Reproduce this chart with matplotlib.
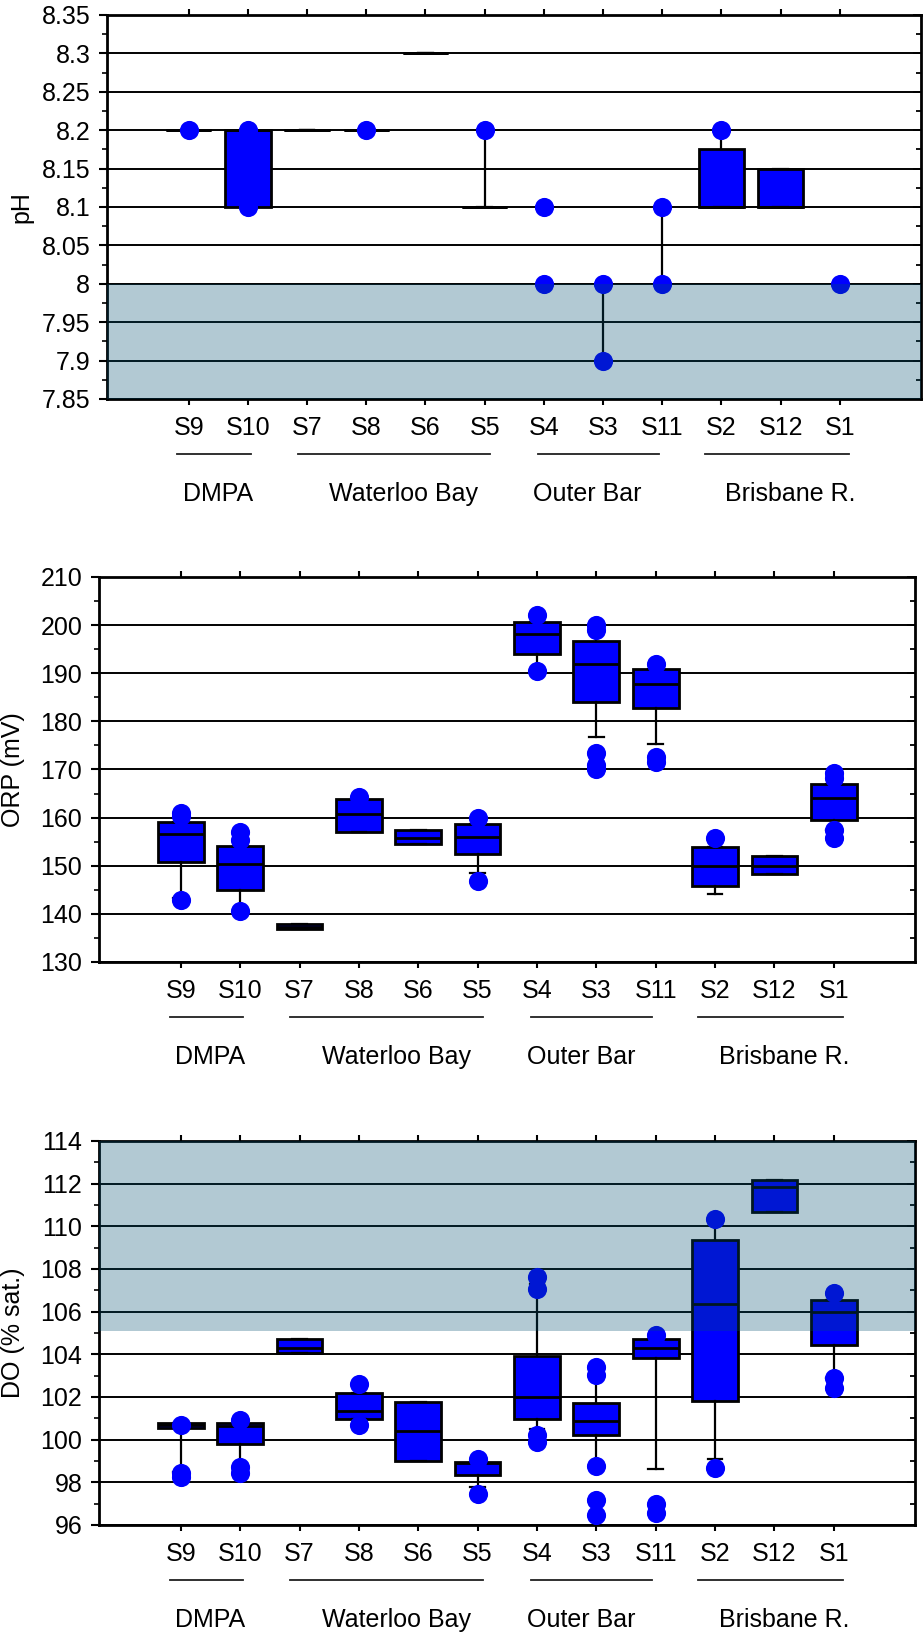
import numpy as np
import matplotlib
matplotlib.use("Agg")
import matplotlib.pyplot as plt
import matplotlib.transforms as mtransforms
from matplotlib.ticker import MultipleLocator, FormatStrFormatter

plt.rcParams['font.family'] = ['Liberation Sans', 'DejaVu Sans']

# stations in plotting order, and their groups
stations = ['S9', 'S10', 'S7', 'S8', 'S6', 'S5', 'S4', 'S3', 'S11', 'S2', 'S12', 'S1']
group_names = ['DMPA', 'Waterloo Bay', 'Outer Bar', 'Brisbane R.']

# pH (None = no box drawn, only points)
ph_q1 = [8.2, 8.1, 8.2, 8.2, 8.3, 8.1, None, None, None, 8.1, 8.1, None]
ph_med = [8.2, 8.2, 8.2, 8.2, 8.3, 8.1, None, None, None, 8.1, 8.1, None]
ph_q3 = [8.2, 8.2, 8.2, 8.2, 8.3, 8.1, None, None, None, 8.175, 8.15, None]
ph_lo = [8.2, 8.1, 8.2, 8.2, 8.3, 8.1, 8.0, 7.9, 8.0, 8.1, 8.1, 8.0]
ph_hi = [8.2, 8.2, 8.2, 8.2, 8.3, 8.2, 8.0, 8.0, 8.1, 8.2, 8.15, 8.0]
ph_fliers = [[8.2], [8.1, 8.2], [], [8.2], [], [8.2], [8.0, 8.1], [7.9, 8.0],
             [8.0, 8.1], [8.2], [], [8.0]]

# ORP (mV)
orp_q1 = [150.8, 144.9, 136.8, 157.1, 154.5, 152.4, 194.0, 184.1, 182.8, 145.8, 148.3, 159.6]
orp_med = [156.6, 150.3, 137.3, 160.7, 155.8, 155.9, 198.2, 192.0, 187.8, 150.0, 150.0, 164.1]
orp_q3 = [159.1, 154.1, 137.8, 163.8, 157.4, 158.7, 200.7, 196.6, 190.8, 153.8, 152.1, 167.0]
orp_lo = [143.2, 141.0, 136.8, 157.1, 154.5, 148.4, 190.8, 176.7, 175.4, 144.2, 148.3, 157.4]
orp_hi = [159.1, 154.1, 137.8, 163.8, 157.4, 158.7, 200.7, 198.9, 190.8, 153.8, 152.1, 167.0]
orp_fliers = [[160.3, 161.0, 142.8], [155.3, 157.1, 140.6], [], [164.2], [], [160.0, 146.9],
              [202.0, 190.5], [200.1, 198.9, 173.4, 171.0, 170.0], [192.0, 172.6, 171.6],
              [155.7], [], [169.2, 168.2, 157.4, 155.7]]

# DO (% sat.)
do_q1 = [100.57, 99.82, 104.04, 100.96, 99.0, 98.34, 100.96, 100.22, 103.85, 101.81, 110.67, 104.42]
do_med = [100.68, 100.65, 104.31, 101.34, 100.40, 98.89, 102.01, 100.87, 104.32, 106.37, 111.85, 105.99]
do_q3 = [100.79, 100.76, 104.71, 102.17, 101.78, 98.97, 103.93, 101.70, 104.71, 109.38, 112.19, 106.54]
do_lo = [98.5, 98.7, 104.04, 100.96, 99.0, 97.8, 100.5, 98.76, 98.62, 99.08, 110.67, 102.87]
do_hi = [100.79, 100.76, 104.71, 102.17, 101.78, 98.97, 107.3, 103.03, 104.71, 110.33, 112.19, 106.54]
do_fliers = [[100.7, 98.45, 98.23], [100.92, 98.73, 98.42], [], [102.59, 100.68], [],
             [99.08, 97.45], [107.63, 107.08, 100.22, 99.9], [103.42, 103.03, 98.76, 97.17, 96.47],
             [104.9, 97.0, 96.55], [110.33, 98.65], [], [106.88, 102.87, 102.40]]

# guideline (shaded) ranges
ph_band = (7.85, 8.0)
do_band = (105.1, 114)

# layout constants
W, H = 923, 1634
group_line_span = [(0.81, 2.05), (2.84, 6.09), (6.90, 8.94), (9.72, 12.16)]
group_text_x = [1.49, 4.63, 7.74, 11.16]
FS = 18
BLUE = '#0000ff'
SHADE = (0.0, 0.31, 0.43)

fig = plt.figure(figsize=(W / 100, H / 100), dpi=100)


def add_axes(l, t, r, b):
    return fig.add_axes([l / W, 1 - b / H, (r - l) / W, (b - t) / H])


def stats_for(q1, med, q3, lo, hi, fl, idx):
    out = []
    for i in idx:
        s = dict(q1=q1[i] if q1[i] is not None else lo[i],
                 med=med[i] if med[i] is not None else lo[i],
                 q3=q3[i] if q3[i] is not None else lo[i],
                 whislo=lo[i], whishi=hi[i], fliers=fl[i])
        out.append(s)
    return out


def draw_boxes(ax, q1, med, q3, lo, hi, fl):
    boxed = [i for i in range(len(stations)) if q1[i] is not None]
    bare = [i for i in range(len(stations)) if q1[i] is None]
    common = dict(widths=0.77, capwidths=0.25, patch_artist=True, manage_ticks=False,
                  boxprops=dict(facecolor=BLUE, edgecolor='black', linewidth=2.0),
                  whiskerprops=dict(color='black', linewidth=1.6),
                  capprops=dict(color='black', linewidth=1.6),
                  flierprops=dict(marker='o', markerfacecolor=BLUE, markeredgecolor=BLUE,
                                  markersize=13.8, markeredgewidth=0, zorder=3))
    if boxed:
        ax.bxp(stats_for(q1, med, q3, lo, hi, fl, boxed),
               positions=[i + 1 for i in boxed],
               medianprops=dict(color='black', linewidth=2.0), **common)
    if bare:
        ax.bxp(stats_for(q1, med, q3, lo, hi, fl, bare),
               positions=[i + 1 for i in bare], showbox=False, showcaps=False,
               medianprops=dict(linewidth=0), **common)


def style_axes(ax, ylim, major, minor, fmt, ylabel):
    ax.set_xlim(-0.38, 13.37)
    ax.set_ylim(*ylim)
    ax.set_xticks(range(1, len(stations) + 1))
    ax.set_xticklabels(stations, fontsize=FS)
    ax.yaxis.set_major_locator(MultipleLocator(major))
    ax.yaxis.set_minor_locator(MultipleLocator(minor))
    ax.yaxis.set_major_formatter(FormatStrFormatter(fmt))
    ax.tick_params(axis='y', which='major', direction='out', length=6, width=1.5,
                   labelsize=FS, pad=6)
    ax.tick_params(axis='y', which='minor', direction='out', length=3.5, width=1.2)
    ax.tick_params(axis='x', which='major', direction='out', length=4, width=1.5,
                   top=True, labelsize=FS, pad=8)
    ax.yaxis.grid(True, which='major', color='black', linewidth=1.4)
    ax.set_axisbelow(True)
    for sp in ax.spines.values():
        sp.set_linewidth(2.0)
    sec = ax.secondary_yaxis('right')
    sec.yaxis.set_major_locator(MultipleLocator(major))
    sec.yaxis.set_minor_locator(MultipleLocator(minor))
    sec.tick_params(which='both', direction='in', labelright=False, width=1.3)
    sec.tick_params(which='major', length=6)
    sec.tick_params(which='minor', length=3.5)
    ax.set_ylabel(ylabel, fontsize=FS)
    ax.yaxis.set_label_coords(-74 / 814, 0.5)

    # station groups underneath the axis
    trans = mtransforms.blended_transform_factory(ax.transData, ax.transAxes)
    for name, (x0, x1), xt in zip(group_names, group_line_span, group_text_x):
        ax.plot([x0, x1], [-55 / 384, -55 / 384], color='#202020', linewidth=1.3,
                transform=trans, clip_on=False)
        ax.text(xt, -95 / 384, name, transform=trans, ha='center', va='center', fontsize=FS)


# pH panel
ax1 = add_axes(107, 15, 921, 399)
draw_boxes(ax1, ph_q1, ph_med, ph_q3, ph_lo, ph_hi, ph_fliers)
ax1.axhspan(*ph_band, facecolor=SHADE, alpha=0.3, linewidth=0, zorder=4)
style_axes(ax1, (7.85, 8.35), 0.05, 0.025, '%g', 'pH')

# ORP panel
ax2 = add_axes(99, 577, 915, 962)
draw_boxes(ax2, orp_q1, orp_med, orp_q3, orp_lo, orp_hi, orp_fliers)
style_axes(ax2, (130, 210), 10, 5, '%g', 'ORP (mV)')

# DO panel
ax3 = add_axes(99, 1141, 915, 1525)
draw_boxes(ax3, do_q1, do_med, do_q3, do_lo, do_hi, do_fliers)
ax3.axhspan(*do_band, facecolor=SHADE, alpha=0.3, linewidth=0, zorder=4)
style_axes(ax3, (96, 114), 2, 1, '%g', 'DO (% sat.)')

fig.savefig('out.png', dpi=100)
